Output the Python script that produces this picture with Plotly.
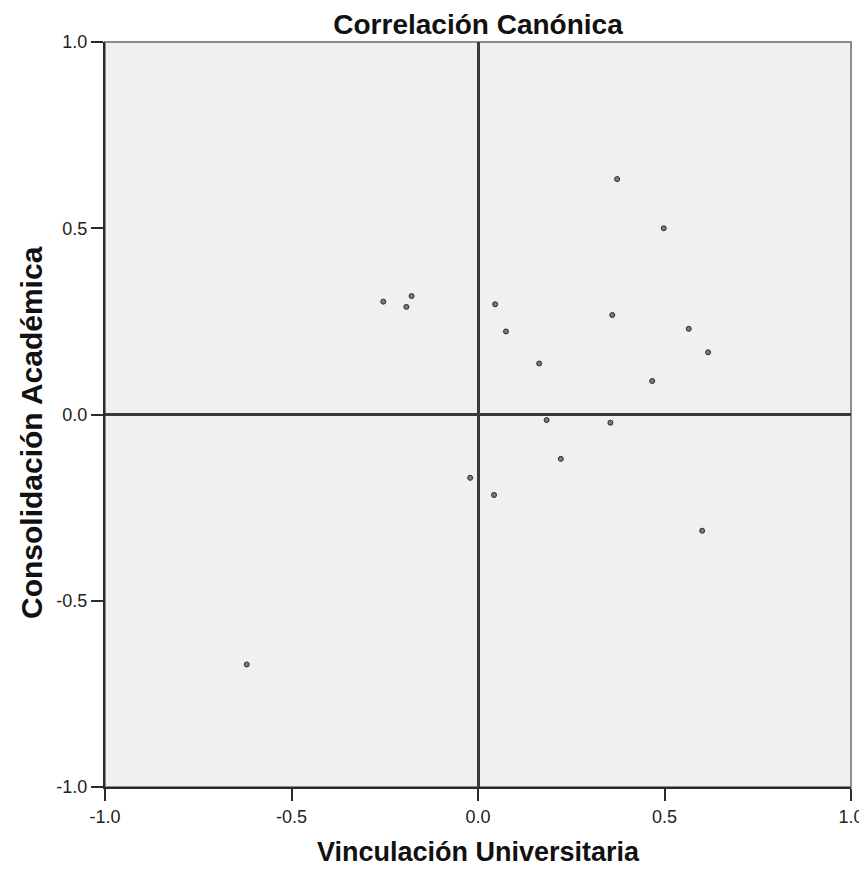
import plotly.graph_objects as go

# canonical scores
vinculacion = [0.373, 0.498, -0.254, -0.178, -0.192, 0.046, 0.075, 0.164, 0.360, 0.565,
               0.617, 0.467, 0.184, 0.355, 0.222, -0.021, 0.043, 0.601, -0.620]
consolidacion = [0.632, 0.500, 0.303, 0.318, 0.289, 0.296, 0.223, 0.137, 0.267, 0.230,
                 0.167, 0.090, -0.015, -0.022, -0.119, -0.170, -0.216, -0.312, -0.671]

tick_vals = [-1.0, -0.5, 0.0, 0.5, 1.0]
tick_text = ["-1.0", "-0.5", "0.0", "0.5", "1.0"]

fig = go.Figure(
    go.Scatter(
        x=vinculacion,
        y=consolidacion,
        mode="markers",
        marker=dict(size=5, color="#7a7a7a", line=dict(color="#2b2b2b", width=1)),
        hoverinfo="x+y",
    )
)

axis_common = dict(
    range=[-1.0, 1.0],
    tickvals=tick_vals,
    ticktext=tick_text,
    ticks="outside",
    ticklen=12,
    tickwidth=2,
    tickcolor="#2a2a2a",
    showgrid=False,
    zeroline=True,
    zerolinecolor="#3a3a3a",
    zerolinewidth=2.5,
    showline=True,
    linecolor="#2a2a2a",
    linewidth=2,
    mirror=False,
    automargin=False,
    tickfont=dict(family="Liberation Sans, Arial, sans-serif", size=18, color="#222"),
)

fig.update_xaxes(
    **axis_common,
    title_text="<b>Vinculación Universitaria</b>",
    title_standoff=17,
    title_font=dict(family="Liberation Sans, Arial, sans-serif", size=27, color="#111"),
)
fig.update_yaxes(**axis_common)

fig.update_layout(
    width=859,
    height=861,
    margin=dict(l=97, r=16, t=34, b=82),
    paper_bgcolor="#ffffff",
    plot_bgcolor="#f0f0f0",
    showlegend=False,
    shapes=[
        dict(type="rect", xref="paper", yref="paper", x0=0, x1=1, y0=0, y1=1,
             line=dict(color="#8c8c8c", width=2), layer="below"),
    ],
    annotations=[
        dict(
            text="<b>Consolidación Académica</b>",
            textangle=-90,
            xref="paper", yref="paper",
            x=-0.0992, y=0.4765,
            xanchor="center", yanchor="middle",
            showarrow=False,
            font=dict(family="Liberation Sans, Arial, sans-serif", size=30, color="#111"),
        )
    ],
    title=dict(
        text="<b>Correlación Canónica</b>",
        x=(97 + 843) / 2 / 859,
        xanchor="center",
        y=1 - 16 / 861,
        yanchor="middle",
        font=dict(family="Liberation Sans, Arial, sans-serif", size=28, color="#111"),
    ),
)

fig.write_html("out.html")
